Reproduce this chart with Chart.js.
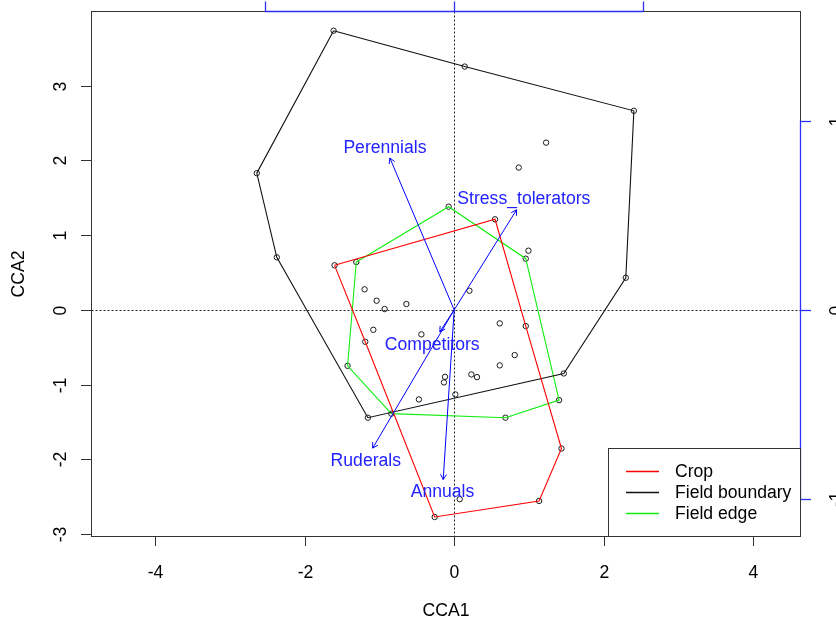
<!DOCTYPE html>
<html>
<head>
<meta charset="utf-8">
<script src="https://cdn.jsdelivr.net/npm/chart.js@4.4.0/dist/chart.umd.min.js"></script>
<style>
  html, body { margin: 0; padding: 0; background: #ffffff; }
  canvas { display: block; }
</style>
</head>
<body>
<canvas id="cca" width="836" height="625"></canvas>
<script>
// Site scores on the first two constrained axes
const siteX = [-1.614, 0.141, 2.405, 2.297, 1.467, -1.155, -2.374, -2.642,
               -1.601, 0.547, 0.958, 1.436, 1.136, -0.261, -1.190,
               -1.310, -0.074, 0.958, 1.404, 0.686, -0.841, -1.427,
               1.230, 0.864, 0.994, -1.199, -1.038, -0.931, -0.640, 0.204,
               0.610, -1.082, -0.439, 0.810, 0.610, 0.230, 0.305, -0.123,
               -0.137, 0.016, -0.472, 0.074];
const siteY = [3.736, 3.256, 2.664, 0.430, -0.851, -1.443, 0.703, 1.829,
               0.596, 1.212, -0.217, -1.855, -2.557, -2.772, -0.427,
               0.640, 1.381, 0.685, -1.208, -1.443, -1.389, -0.749,
               2.238, 1.904, 0.792, 0.275, 0.122, 0.011, 0.078, 0.256,
               -0.181, -0.267, -0.328, -0.605, -0.743, -0.864, -0.900, -0.896,
               -0.971, -1.132, -1.199, -2.534];

// Convex hull outlines of each habitat group
const cropX = [-1.601, 0.547, 0.958, 1.436, 1.136, -0.261, -1.190];
const cropY = [0.596, 1.212, -0.217, -1.855, -2.557, -2.772, -0.427];
const boundaryX = [-1.614, 0.141, 2.405, 2.297, 1.467, -1.155, -2.374, -2.642];
const boundaryY = [3.736, 3.256, 2.664, 0.430, -0.851, -1.443, 0.703, 1.829];
const edgeX = [-1.310, -0.074, 0.958, 1.404, 0.686, -0.841, -1.427];
const edgeY = [0.640, 1.381, 0.685, -1.208, -1.443, -1.389, -0.749];

const groupNames = ['Crop', 'Field boundary', 'Field edge'];

// Biplot scores of the life-history traits
const traitNames = ['Perennials', 'Stress_tolerators', 'Competitors', 'Ruderals', 'Annuals'];
const traitX = [-0.340, 0.330, -0.076, -0.431, -0.058];
const traitY = [0.803, 0.529, -0.116, -0.731, -0.897];

// Tick labels
const xTicks = [-4, -2, 0, 2, 4];
const yTicks = [-3, -2, -1, 0, 1, 2, 3];
const biplotTicks = [-1, 0, 1];

// Axis limits (equal aspect) and biplot arrow multiplier
const X_MIN = -4.854, X_MAX = 4.635;
const Y_MIN = -3.033, Y_MAX = 3.993;
const ARROW_MUL = 2.5314;

const groupColors = ['#ff0000', '#111111', '#11ee11'];
const BLUE = '#0000ff';
const FONT_PX = 17.6;
const FONT = FONT_PX + 'px "Liberation Sans", Arial, Helvetica, sans-serif';
const CAP = 0.716 * FONT_PX;

const toXY = (xs, ys) => xs.map((x, i) => ({ x: x, y: ys[i] }));
const closed = (xs, ys) => { const d = toXY(xs, ys); d.push({ x: xs[0], y: ys[0] }); return d; };

// Draw text with its cap-height centred on (x, y)
function capText(ctx, str, x, y, rot, align) {
  ctx.save();
  ctx.translate(x, y);
  if (rot) ctx.rotate(rot);
  ctx.textAlign = align || 'center';
  ctx.textBaseline = 'alphabetic';
  ctx.fillText(str, 0, CAP / 2);
  ctx.restore();
}

function seg(ctx, color, x1, y1, x2, y2) {
  ctx.beginPath();
  ctx.strokeStyle = color;
  ctx.moveTo(x1, y1);
  ctx.lineTo(x2, y2);
  ctx.stroke();
}

const ordiPlot = {
  id: 'ordiPlot',
  beforeDatasetsDraw(chart) {
    const { ctx, chartArea: a, scales: { x, y } } = chart;
    const px = Math.round(x.getPixelForValue(0)) + 0.5;
    const py = Math.round(y.getPixelForValue(0)) + 0.5;
    ctx.save();
    ctx.lineWidth = 1;
    ctx.setLineDash([2, 2]);
    seg(ctx, '#222222', px, a.top, px, a.bottom);
    seg(ctx, '#222222', a.left, py, a.right, py);
    ctx.restore();
  },
  afterDatasetsDraw(chart) {
    const { ctx, scales } = chart;
    const x2 = scales.x2, y2 = scales.y2;
    const ox = x2.getPixelForValue(0), oy = y2.getPixelForValue(0);
    ctx.save();
    ctx.fillStyle = '#2222ff';
    ctx.lineWidth = 1;
    ctx.font = FONT;
    const h = 0.88 * FONT_PX;
    traitNames.forEach((name, i) => {
      const tx = x2.getPixelForValue(traitX[i]);
      const ty = y2.getPixelForValue(traitY[i]);
      // arrow head
      const ang = Math.atan2(ty - oy, tx - ox);
      const L = 6, spread = Math.PI / 6;
      ctx.beginPath();
      ctx.strokeStyle = BLUE;
      ctx.moveTo(tx - L * Math.cos(ang - spread), ty - L * Math.sin(ang - spread));
      ctx.lineTo(tx, ty);
      ctx.lineTo(tx - L * Math.cos(ang + spread), ty - L * Math.sin(ang + spread));
      ctx.stroke();
      // label placed on the continuation of the arrow, clear of its tip
      const vx = tx - ox, vy = oy - ty;
      const w = ctx.measureText(name).width;
      let offX = Math.sign(vx) * (w / 2 + h / 4);
      let offY = 0.75 * h * Math.sign(vy);
      const b = vy / vx;
      const move = offY / b;
      if (isFinite(move) && Math.abs(move) <= Math.abs(offX)) offX = move;
      else offY = b * offX;
      capText(ctx, name, tx + offX, ty - offY);
    });
    ctx.restore();
  },
  afterDraw(chart) {
    const { ctx, chartArea: a, scales: { x, y, x2, y2 } } = chart;
    ctx.save();
    ctx.lineWidth = 1;
    ctx.fillStyle = '#000000';
    ctx.font = FONT;
    const FRAME = '#333333';
    const AXIS2 = '#2f2fff';

    // plot frame
    ctx.strokeStyle = FRAME;
    ctx.strokeRect(a.left, a.top, a.right - a.left, a.bottom - a.top);

    // bottom axis
    xTicks.forEach(v => {
      const p = Math.round(x.getPixelForValue(v)) + 0.5;
      seg(ctx, FRAME, p, a.bottom, p, a.bottom + 9.5);
      capText(ctx, String(v), p, 571.5);
    });
    capText(ctx, 'CCA1', (a.left + a.right) / 2, 609.5);

    // left axis
    yTicks.forEach(v => {
      const p = Math.round(y.getPixelForValue(v)) + 0.5;
      seg(ctx, FRAME, a.left - 10.5, p, a.left, p);
      capText(ctx, String(v), 60, p, -Math.PI / 2);
    });
    capText(ctx, 'CCA2', 18, (a.top + a.bottom) / 2, -Math.PI / 2);

    // biplot axes (top and right)
    ctx.lineWidth = 1.3;
    const tx0 = x2.getPixelForValue(biplotTicks[0]);
    const tx1 = x2.getPixelForValue(biplotTicks[biplotTicks.length - 1]);
    seg(ctx, AXIS2, tx0, a.top, tx1, a.top);
    biplotTicks.forEach(v => {
      const p = Math.round(x2.getPixelForValue(v)) + 0.5;
      seg(ctx, AXIS2, p, a.top, p, a.top - 10);
    });
    const ty0 = y2.getPixelForValue(biplotTicks[0]);
    const ty1 = y2.getPixelForValue(biplotTicks[biplotTicks.length - 1]);
    seg(ctx, AXIS2, a.right, ty0, a.right, ty1);
    biplotTicks.forEach(v => {
      const p = Math.round(y2.getPixelForValue(v)) + 0.5;
      seg(ctx, AXIS2, a.right, p, a.right + 10.5, p);
      capText(ctx, String(v), a.right + 35, p, -Math.PI / 2);
    });

    // legend
    ctx.lineWidth = 1;
    const lx = 608.5, ly = 448.5;
    ctx.fillStyle = '#ffffff';
    ctx.fillRect(lx, ly, a.right - lx, a.bottom - ly);
    ctx.strokeStyle = FRAME;
    ctx.strokeRect(lx, ly, a.right - lx, a.bottom - ly);
    ctx.fillStyle = '#000000';
    ctx.lineWidth = 1.3;
    groupNames.forEach((g, i) => {
      const yy = 470.5 + i * 21.3;
      seg(ctx, groupColors[i], 626, Math.round(yy) + 0.5, 659, Math.round(yy) + 0.5);
      capText(ctx, g, 675, yy, 0, 'left');
    });
    ctx.restore();
  }
};

const hulls = [[cropX, cropY], [boundaryX, boundaryY], [edgeX, edgeY]];

new Chart(document.getElementById('cca'), {
  type: 'scatter',
  data: {
    datasets: [
      {
        label: 'Sites',
        data: toXY(siteX, siteY),
        showLine: false,
        pointRadius: 2.7,
        pointStyle: 'circle',
        pointBorderColor: '#1a1a1a',
        pointBackgroundColor: 'rgba(0,0,0,0)',
        pointBorderWidth: 1,
        order: 5
      },
      ...hulls.map((hd, i) => ({
        label: groupNames[i],
        data: closed(hd[0], hd[1]),
        showLine: true,
        borderColor: groupColors[i],
        borderWidth: 1.1,
        pointRadius: 0,
        tension: 0,
        fill: false,
        order: 3
      })),
      ...traitNames.map((n, i) => ({
        label: n,
        data: [{ x: 0, y: 0 }, { x: traitX[i], y: traitY[i] }],
        xAxisID: 'x2',
        yAxisID: 'y2',
        showLine: true,
        borderColor: BLUE,
        borderWidth: 1,
        pointRadius: 0,
        tension: 0,
        fill: false,
        order: 1
      }))
    ]
  },
  options: {
    responsive: false,
    animation: false,
    devicePixelRatio: 1,
    events: [],
    layout: { padding: { left: 91.5, right: 35.5, top: 11.5, bottom: 88.5 } },
    scales: {
      x: { type: 'linear', min: X_MIN, max: X_MAX, display: false },
      y: { type: 'linear', min: Y_MIN, max: Y_MAX, display: false },
      x2: { type: 'linear', position: 'top', min: X_MIN / ARROW_MUL, max: X_MAX / ARROW_MUL, display: false },
      y2: { type: 'linear', position: 'right', min: Y_MIN / ARROW_MUL, max: Y_MAX / ARROW_MUL, display: false }
    },
    plugins: {
      legend: { display: false },
      tooltip: { enabled: false }
    }
  },
  plugins: [ordiPlot]
});
</script>
</body>
</html>
